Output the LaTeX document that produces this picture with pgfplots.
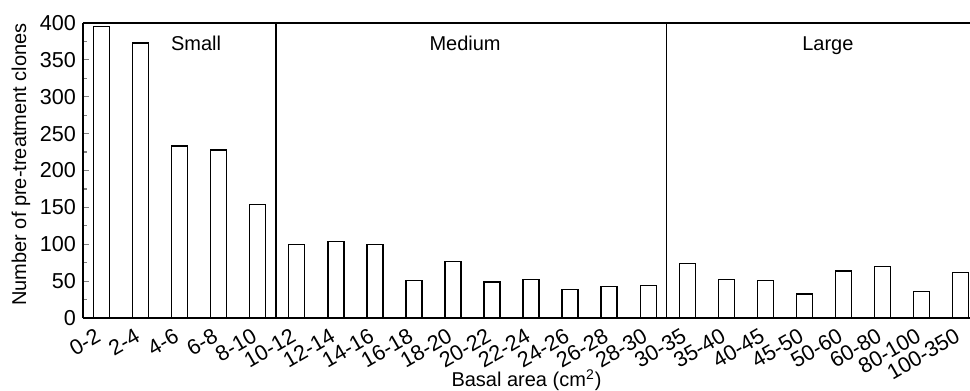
\documentclass[border=0pt]{standalone}
\usepackage{pgfplots}
\pgfplotsset{compat=1.18}
\usepackage{fontspec}
\setmainfont{Liberation Sans}
\begin{document}
\fontsize{10}{12}\selectfont
\begin{tikzpicture}
\begin{axis}[
  scale only axis,
  width=443.5pt, height=147.5pt,
  xmin=-0.474, xmax=22.24,
  ymin=0, ymax=400,
  axis lines=left,
  axis line style={-, line width=0.7pt},
  ybar, bar width=8pt,
  xtick={0,...,22},
  xticklabels={0-2,2-4,4-6,6-8,8-10,10-12,12-14,14-16,16-18,18-20,20-22,22-24,24-26,26-28,28-30,30-35,35-40,40-45,45-50,50-60,60-80,80-100,100-350},
  x tick label style={xshift=-3.2pt, yshift=-3.8pt, rotate=30, anchor=north east, inner sep=0.5pt, font=\fontsize{10.8}{12}\selectfont},
  major x tick style={draw=none},
  ytick={0,50,...,400},
  minor y tick num=1,
  tick align=inside,
  major tick length=2.8pt,
  minor tick length=2pt,
  y tick style={line width=0.6pt},
  y tick label style={font=\fontsize{10.8}{12}\selectfont},
  /pgf/number format/assume math mode=true,
  ylabel={Number of pre-treatment clones},
  xlabel={Basal area (cm\textsuperscript{2})},
  label style={font=\fontsize{10}{12}\selectfont},
  ylabel style={at={(ticklabel cs:0.52)}, yshift=-2pt},
  xlabel style={at={(rel axis cs:0.5,0)}, anchor=center, yshift=-31pt},
  clip=false,
]
\addplot[draw=black, fill=white, line width=0.7pt] coordinates {
(0,395) (1,373) (2,233) (3,228) (4,153.5) (5,99.5) (6,104) (7,99.5) (8,50.5) (9,77) (10,49) (11,52) (12,39) (13,42.5) (14,44.3) (15,73.7) (16,52) (17,50.6) (18,32.5) (19,63.7) (20,70) (21,35.7) (22,62)
};
\draw[line width=0.7pt] (rel axis cs:0,1) -- (rel axis cs:1,1);
\draw[line width=0.7pt] (axis cs:4.47,0) -- (axis cs:4.47,400);
\draw[line width=0.7pt] (axis cs:14.47,0) -- (axis cs:14.47,400);
\node[anchor=base] at (axis cs:2.42,363) {Small};
\node[anchor=base] at (axis cs:9.31,363) {Medium};
\node[anchor=base] at (axis cs:18.6,363) {Large};
\end{axis}
\pgfresetboundingbox
\useasboundingbox ([xshift=-41.5pt,yshift=-36.5pt]current axis.south west) rectangle ([yshift=11.5pt]current axis.north east);
\end{tikzpicture}
\end{document}
